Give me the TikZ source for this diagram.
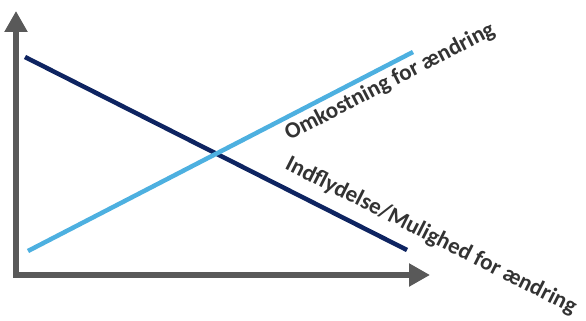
\documentclass[tikz,border=0pt]{standalone}
\usepackage{fontspec}
\setmainfont{Carlito}
\usetikzlibrary{arrows.meta}
\definecolor{axisgray}{HTML}{595959}
\definecolor{navyline}{HTML}{0E2461}
\definecolor{skyline}{HTML}{4DB0E0}
\definecolor{labelgray}{HTML}{333333}

\begin{document}
\begin{tikzpicture}[x=1pt,y=-1pt,
	axis/.style={draw=axisgray, line width=6pt, line join=miter,
		{Triangle[length=21pt,width=22pt]}-{Triangle[length=21pt,width=22pt]}},
	curve/.style={line width=4.5pt},
	lbl/.style={text=labelgray, font=\fontsize{23}{23}\selectfont\bfseries, inner sep=0pt}]
	\useasboundingbox (0,0) rectangle (586,321);
	
	\coordinate(Ytop) at (16,11);
	\coordinate(O) at (16,275);
	\coordinate(Xend) at (430,275);
	\draw[axis] (Ytop) -- (O) -- (Xend);
	
	\coordinate(I1) at (25,57);
	\coordinate(I2) at (407,250);
	\coordinate(C1) at (28,251);
	\coordinate(C2) at (413,52);
	
	\draw[curve, draw=navyline] (I1) -- (I2);
	\draw[curve, draw=skyline] (C1) -- (C2);
	
	\node[lbl, rotate=27.3](COST) at (390,82){Omkostning for ændring};
	\node[lbl, rotate=-26.8](INFL) at (431,236){Indflydelse/Mulighed for ændring};
\end{tikzpicture}
\end{document}
